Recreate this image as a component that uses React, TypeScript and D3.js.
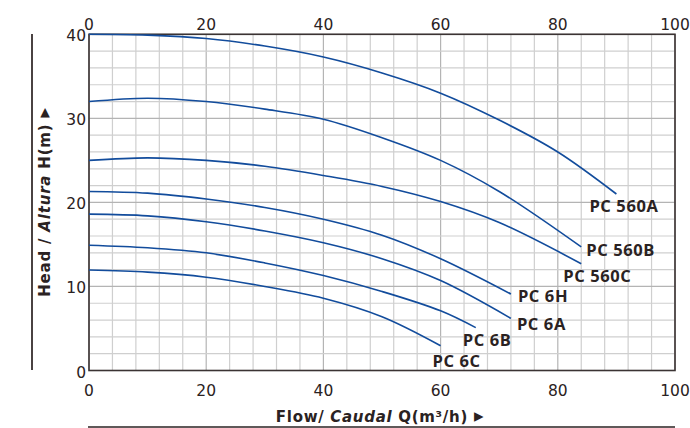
import React from "react";
import * as d3 from "d3";

// ---- data ----
const xTicks = [0, 20, 40, 60, 80, 100];
const yTicks = [0, 10, 20, 30, 40];

const seriesNames = ["PC 560A", "PC 560B", "PC 560C", "PC 6H", "PC 6A", "PC 6B", "PC 6C"];

const pc560A: [number, number][] = [[0, 40], [10, 39.9], [20, 39.5], [30, 38.6], [40, 37.3], [50, 35.4], [60, 33.0], [70, 29.8], [80, 26.0], [90, 21.0]];
const pc560B: [number, number][] = [[0, 32.0], [10, 32.4], [20, 32.0], [30, 31.1], [40, 29.9], [50, 27.7], [60, 25.0], [70, 21.3], [84, 14.7]];
const pc560C: [number, number][] = [[0, 25.0], [10, 25.3], [20, 25.0], [30, 24.3], [40, 23.2], [50, 21.9], [60, 20.1], [70, 17.6], [84, 12.7]];
const pc6H: [number, number][] = [[0, 21.3], [10, 21.1], [20, 20.4], [30, 19.4], [40, 18.0], [50, 16.1], [60, 13.3], [72, 9.1]];
const pc6A: [number, number][] = [[0, 18.6], [10, 18.4], [20, 17.7], [30, 16.6], [40, 15.2], [50, 13.3], [60, 10.7], [72, 6.2]];
const pc6B: [number, number][] = [[0, 14.9], [10, 14.6], [20, 14.0], [30, 12.8], [40, 11.3], [50, 9.4], [60, 7.1], [66, 5.1]];
const pc6C: [number, number][] = [[0, 11.95], [10, 11.7], [20, 11.1], [30, 10.0], [40, 8.6], [50, 6.4], [60, 2.95]];

const seriesData = [pc560A, pc560B, pc560C, pc6H, pc6A, pc6B, pc6C];

// ---- label placement (style, relative to curve end) ----
const labelOffsets: [number, number][] = [[-27, 18], [5, 9], [-18, 18], [7, 8], [6, 12], [-13, 18], [-8, 21]];

const W = 690;
const H = 428;
const plot = { left: 89, right: 675, top: 34.3, bottom: 370.5 };

export default function App() {
  const x = d3.scaleLinear().domain([0, 100]).range([plot.left, plot.right]);
  const y = d3.scaleLinear().domain([0, 40]).range([plot.bottom, plot.top]);

  const line = d3
    .line<[number, number]>()
    .x((d) => x(d[0]))
    .y((d) => y(d[1]))
    .curve(d3.curveCatmullRom.alpha(0.5));

  const xGrid = d3.range(0, 101, 4);
  const yGrid = d3.range(0, 41, 2);

  const tickFont = "'DejaVu Sans', Verdana, sans-serif";
  const labelFont = "'Open Sans', 'Noto Sans', sans-serif";
  const frame = "#3b3333";
  const curveColor = "#124c9c";

  return (
    <svg
      width={W}
      height={H}
      style={{ position: "absolute", left: 0, top: 0, background: "#fff" }}
    >
      {/* grid */}
      <g>
        {xGrid.map((v) => (
          <line
            key={"gx" + v}
            x1={x(v)}
            x2={x(v)}
            y1={plot.top}
            y2={plot.bottom}
            stroke={v % 20 === 0 ? "#b4b4b4" : "#cfcfcf"}
            strokeWidth={1.2}
          />
        ))}
        {yGrid.map((v) => (
          <line
            key={"gy" + v}
            x1={plot.left}
            x2={plot.right}
            y1={y(v)}
            y2={y(v)}
            stroke={v % 10 === 0 ? "#b4b4b4" : "#cfcfcf"}
            strokeWidth={1.2}
          />
        ))}
      </g>

      {/* frame */}
      <rect
        x={plot.left}
        y={plot.top}
        width={plot.right - plot.left}
        height={plot.bottom - plot.top}
        fill="none"
        stroke={frame}
        strokeWidth={1.6}
      />

      {/* curves */}
      {seriesData.map((s, i) => (
        <path key={"c" + i} d={line(s) || ""} fill="none" stroke={curveColor} strokeWidth={1.6} />
      ))}

      {/* curve labels */}
      {seriesData.map((s, i) => {
        const last = s[s.length - 1];
        return (
          <text
            key={"l" + i}
            x={x(last[0]) + labelOffsets[i][0]}
            y={y(last[1]) + labelOffsets[i][1]}
            fontFamily={labelFont}
            fontWeight="bold"
            fontSize={16.5}
            letterSpacing={0.6}
            fill="#2a2222"
          >
            {seriesNames[i]}
          </text>
        );
      })}

      {/* top tick labels */}
      {xTicks.map((v) => (
        <text key={"tt" + v} x={x(v)} y={30} textAnchor="middle" fontFamily={tickFont} fontSize={15.5} fill="#2a2222">
          {v}
        </text>
      ))}
      {/* bottom tick labels */}
      {xTicks.map((v) => (
        <text key={"tb" + v} x={x(v)} y={396} textAnchor="middle" fontFamily={tickFont} fontSize={15.5} fill="#2a2222">
          {v}
        </text>
      ))}
      {/* left tick labels */}
      {yTicks.map((v) => (
        <text key={"tl" + v} x={86} y={y(v) + 7} textAnchor="end" fontFamily={tickFont} fontSize={15.5} fill="#2a2222">
          {v}
        </text>
      ))}

      {/* y title */}
      <line x1={32} x2={32} y1={34} y2={370} stroke="#4a4242" strokeWidth={2} />
      <text
        transform={`translate(50, 202) rotate(-90)`}
        textAnchor="middle"
        fontFamily={tickFont}
        fontWeight="bold"
        fontSize={15}
        letterSpacing={0.8}
        fill="#2a2222"
      >
        <tspan>Head / </tspan>
        <tspan fontStyle="italic">Altura</tspan>
        <tspan> H(m) </tspan>
        <tspan fontSize={19}>▸</tspan>
      </text>

      {/* x title */}
      <text
        x={380}
        y={422}
        textAnchor="middle"
        fontFamily={tickFont}
        fontWeight="bold"
        fontSize={15}
        letterSpacing={0.7}
        fill="#2a2222"
      >
        <tspan>Flow/ </tspan>
        <tspan fontStyle="italic">Caudal</tspan>
        <tspan> Q(m³/h) </tspan>
        <tspan fontSize={19}>▸</tspan>
      </text>
      <line x1={88} x2={675} y1={427} y2={427} stroke="#2a2222" strokeWidth={1.6} />
    </svg>
  );
}
